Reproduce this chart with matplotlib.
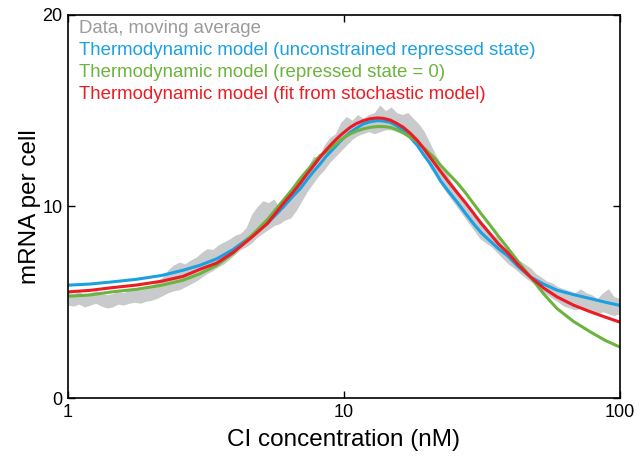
import numpy as np
import matplotlib
matplotlib.use("Agg")
import matplotlib.pyplot as plt

plt.rcParams['font.family'] = ['Liberation Sans', 'DejaVu Sans']

# moving average of the data: lower / upper envelope, sampled evenly in log(CI)
data_lo = [4.85, 4.8, 4.9, 4.75, 4.85, 4.95, 4.8, 4.7, 4.75, 4.9,
           4.85, 4.95, 5.0, 4.95, 5.05, 5.1, 5.2, 5.35, 5.5, 5.6,
           5.65, 5.8, 5.95, 6.1, 6.3, 6.5, 6.65, 6.85, 7.0, 7.25,
           7.5, 7.75, 7.9, 8.1, 8.4, 8.6, 8.8, 9.0, 9.1, 9.3,
           9.4, 9.8, 10.3, 10.8, 11.2, 11.6, 11.9, 12.3, 12.6, 12.9,
           13.2, 13.5, 13.7, 13.8, 13.9, 13.8, 13.9, 14.0, 14.0, 13.9,
           13.8, 13.6, 13.3, 13.0, 12.7, 12.0, 11.6, 11.1, 10.7, 10.3,
           9.9, 9.5, 9.1, 8.7, 8.3, 8.1, 7.9, 7.6, 7.3, 7.0,
           6.8, 6.55, 6.3, 6.1, 5.9, 5.6, 5.4, 5.2, 5.0, 4.8,
           4.7, 4.6, 4.7, 4.6, 4.5, 4.4, 4.5, 4.4, 4.3, 4.4]
data_hi = [5.5, 5.45, 5.55, 5.4, 5.5, 5.6, 5.45, 5.4, 5.45, 5.55,
           5.5, 5.65, 5.7, 5.65, 5.75, 5.85, 6.1, 6.3, 6.7, 6.95,
           7.1, 7.0, 7.2, 7.35, 7.6, 7.8, 7.75, 8.0, 8.15, 8.3,
           8.5, 8.6, 8.9, 9.6, 10.0, 10.3, 10.2, 10.4, 9.9, 10.1,
           10.7, 11.2, 11.6, 12.0, 12.6, 12.6, 13.2, 13.6, 13.8, 14.4,
           14.7, 14.5, 14.8, 14.6, 14.8, 14.9, 15.3, 15.0, 15.2, 14.9,
           14.8, 14.9, 14.6, 14.3, 13.9, 13.3, 12.7, 12.2, 11.7, 11.2,
           10.8, 10.4, 9.9, 9.6, 9.3, 9.0, 8.6, 8.4, 8.0, 7.8,
           7.5, 7.2, 7.0, 6.8, 6.5, 6.3, 6.1, 6.0, 5.8, 5.7,
           5.6, 5.5, 5.7, 5.5, 5.4, 5.2, 5.5, 5.7, 5.3, 5.2]
data_conc = np.logspace(0, 2, len(data_lo))

# thermodynamic model curves, CI concentration in nM
model_conc = [1.000, 1.202, 1.444, 1.780, 2.190, 2.615, 3.014, 3.47, 3.97, 4.578,
              5.28, 6.03, 6.56, 6.95, 7.37, 7.75, 8.215, 8.64, 9.16, 9.712,
              10.13, 10.56, 11.10, 11.79, 12.48, 13.24, 13.91, 14.75, 15.51, 16.45,
              17.43, 18.50, 19.44, 20.61, 21.49, 22.41, 23.95, 25.86, 27.61, 29.55,
              31.57, 34.04, 36.37, 39.11, 42.99, 47.54, 52.98, 59.36, 68.08, 78.48,
              88.96, 100.0]
unconstrained = [5.89, 5.95, 6.06, 6.20, 6.40, 6.67, 6.93, 7.27, 7.75, 8.40,
                 9.10, 9.96, 10.55, 10.92, 11.40, 11.80, 12.22, 12.62, 13.00, 13.40,
                 13.65, 13.87, 14.08, 14.31, 14.42, 14.48, 14.46, 14.39, 14.22, 13.96,
                 13.62, 13.18, 12.72, 12.22, 11.80, 11.35, 10.80, 10.20, 9.65, 9.10,
                 8.62, 8.18, 7.80, 7.45, 6.85, 6.32, 5.95, 5.63, 5.40, 5.19,
                 5.00, 4.84]
repressed_zero = [5.31, 5.38, 5.54, 5.68, 5.89, 6.15, 6.49, 6.93, 7.55, 8.40,
                  9.30, 10.31, 10.95, 11.44, 11.88, 12.25, 12.66, 12.85, 13.15, 13.45,
                  13.64, 13.79, 13.93, 14.05, 14.13, 14.17, 14.17, 14.13, 14.02, 13.84,
                  13.62, 13.37, 13.08, 12.74, 12.48, 12.16, 11.72, 11.22, 10.72, 10.15,
                  9.60, 9.00, 8.45, 7.88, 7.10, 6.32, 5.45, 4.67, 4.00, 3.45,
                  3.00, 2.67]
stochastic_fit = [5.54, 5.62, 5.76, 5.90, 6.10, 6.35, 6.72, 7.05, 7.60, 8.32,
                  9.10, 10.14, 10.75, 11.20, 11.70, 12.10, 12.57, 12.95, 13.35, 13.70,
                  13.92, 14.13, 14.32, 14.48, 14.58, 14.62, 14.60, 14.51, 14.35, 14.13,
                  13.82, 13.44, 13.05, 12.55, 12.20, 11.85, 11.30, 10.70, 10.20, 9.65,
                  9.10, 8.55, 8.05, 7.62, 6.95, 6.32, 5.75, 5.28, 4.85, 4.50,
                  4.22, 3.97]

labels = ['Data, moving average',
          'Thermodynamic model (unconstrained repressed state)',
          'Thermodynamic model (repressed state = 0)',
          'Thermodynamic model (fit from stochastic model)']
colors = ['#9b9b9b', '#1ba1e2', '#6cb33f', '#ec1c24']

fig = plt.figure(figsize=(6.4, 4.65), dpi=100)
ax = fig.add_axes([0.106, 0.144, 0.862, 0.824])

band = ax.fill_between(data_conc, data_lo, data_hi, color='#c9cacc', lw=0)
l1, = ax.plot(model_conc, unconstrained, color=colors[1], lw=2.2)
l2, = ax.plot(model_conc, repressed_zero, color=colors[2], lw=2.2)
l3, = ax.plot(model_conc, stochastic_fit, color=colors[3], lw=2.2)

ax.set_xscale('log')
ax.set_xlim(1, 100)
ax.set_ylim(0, 20)
ax.set_xticks([1, 10, 100])
ax.set_xticklabels(['1', '10', '100'])
ax.minorticks_off()
ax.set_yticks([0, 10, 20])
ax.tick_params(direction='in', length=5, width=1, labelsize=13,
               top=True, right=True, pad=4)
for s in ax.spines.values():
    s.set_linewidth(1.2)

ax.set_xlabel('CI concentration (nM)', fontsize=17.5, labelpad=6)
ax.set_ylabel('mRNA per cell', fontsize=17.5, labelpad=1)

leg = ax.legend([band, l1, l2, l3], labels, loc='upper left', frameon=False,
                bbox_to_anchor=(0.011, 1.0), handlelength=0, handletextpad=0,
                fontsize=13.4, labelspacing=0.26, borderaxespad=0.1,
                borderpad=0.2)
for h in leg.legend_handles:
    h.set_visible(False)
for t, c in zip(leg.get_texts(), colors):
    t.set_color(c)

fig.savefig('out.png', dpi=100)
